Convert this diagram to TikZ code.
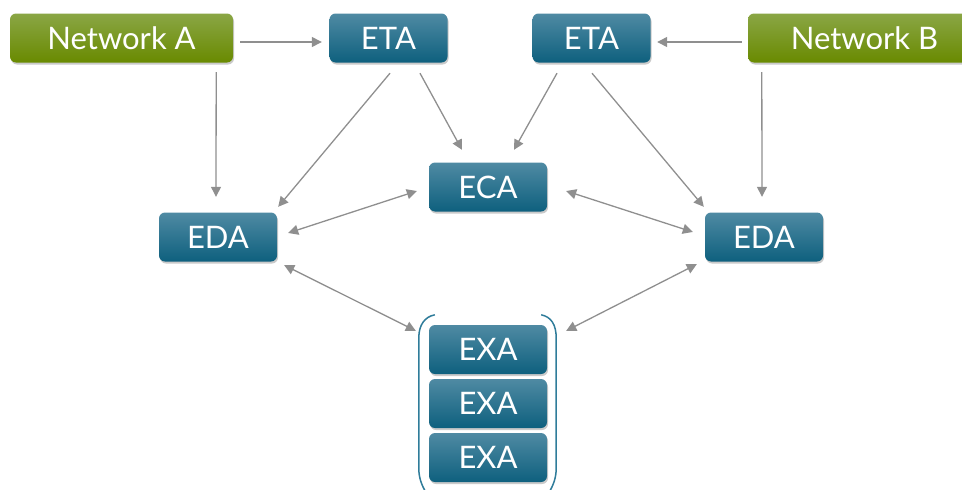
\documentclass[tikz,border=0pt]{standalone}
\usepackage{fontspec}
\setmainfont{Lato}
\usetikzlibrary{shadows,arrows.meta}
\definecolor{btop}{HTML}{4F8AA3}
\definecolor{bbot}{HTML}{0E607E}
\definecolor{gtop}{HTML}{8AA645}
\definecolor{gbot}{HTML}{698A00}
\definecolor{arr}{HTML}{8F8F8F}
\definecolor{brk}{HTML}{2F7C9A}
\tikzset{
  box/.style={rounded corners=6pt, minimum height=49pt, inner sep=0pt, text=white, font=\fontsize{31}{34}\selectfont,
    drop shadow={shadow xshift=1pt, shadow yshift=-2pt, opacity=0.35, fill=black!60}},
  bluebox/.style={box, top color=btop, bottom color=bbot, minimum width=118pt},
  greenbox/.style={box, top color=gtop, bottom color=gbot, minimum width=223pt},
  link/.style={draw=arr, line width=1.3pt, -{Triangle[length=10pt,width=10pt]}},
  blink/.style={draw=arr, line width=1.3pt, {Triangle[length=10pt,width=10pt]}-{Triangle[length=10pt,width=10pt]}},
  brace/.style={draw=brk, line width=1.5pt},
}
\begin{document}
\begin{tikzpicture}[x=1pt,y=-1pt]
\useasboundingbox (0,0) rectangle (962,490);
\node[greenbox] (na) at (121.5,38) {Network A};
\node[greenbox] (nb) at (859.5,38) {\hspace{10pt}Network B};
\node[bluebox] (etal) at (388.5,38) {ETA};
\node[bluebox] (etar) at (591.5,38) {ETA};
\node[bluebox] (eca) at (488,187) {ECA};
\node[bluebox] (edal) at (218,237) {EDA};
\node[bluebox] (edar) at (764,237) {EDA};
\node[bluebox] (exa1) at (488,349.5) {EXA};
\node[bluebox] (exa2) at (488,403.5) {EXA};
\node[bluebox] (exa3) at (488,457.5) {EXA};
% bracket
\draw[brace] ([shift={(6,-10)}]exa1.north west) .. controls ([shift={(-4,-8)}]exa1.north west) and ([shift={(-10,0)}]exa1.north west) .. ([shift={(-10,13)}]exa1.north west) -- ([shift={(-10,-14)}]exa3.south west) .. controls ([shift={(-10,-4)}]exa3.south west) and ([shift={(-7,3)}]exa3.south west) .. ([shift={(-3,10)}]exa3.south west);
\draw[brace] ([shift={(-6,-10)}]exa1.north east) .. controls ([shift={(4,-8)}]exa1.north east) and ([shift={(9,0)}]exa1.north east) .. ([shift={(9,13)}]exa1.north east) -- ([shift={(9,-14)}]exa3.south east) .. controls ([shift={(9,-4)}]exa3.south east) and ([shift={(6,3)}]exa3.south east) .. ([shift={(2,10)}]exa3.south east);
% arrows
\draw[link] ([shift={(7,4)}]na.east) -- ([shift={(-7.5,4)}]etal.west);
\draw[link] ([shift={(-6,4)}]nb.west) -- ([shift={(6.5,4)}]etar.east);
\draw[link] ([shift={(-17,9.5)}]na.south east) -- ([shift={(-2,-15.5)}]edal.north);
\draw[link] ([shift={(14,9.5)}]nb.south west) -- ([shift={(-2,-15.5)}]edar.north);
\draw[link] ([shift={(1.5,10.5)}]etal.south) -- ([shift={(1,-5.5)}]edal.north east);
\draw[link] ([shift={(31.5,10.5)}]etal.south) -- ([shift={(-26,-12.5)}]eca.north);
\draw[link] ([shift={(-34.5,10.5)}]etar.south) -- ([shift={(26,-12.5)}]eca.north);
\draw[link] ([shift={(0.5,10.5)}]etar.south) -- ([shift={(-1,-5.5)}]edar.north west);
\draw[blink] ([shift={(11,-4)}]edal.east) -- ([shift={(-12,4)}]eca.west);
\draw[blink] ([shift={(19,4)}]eca.east) -- ([shift={(-12,-5)}]edar.west);
\draw[blink] ([shift={(7,3.5)}]edal.south east) -- ([shift={(-13,6)}]exa1.north west);
\draw[blink] ([shift={(-8,2.5)}]edar.south west) -- ([shift={(19,6)}]exa1.north east);
\end{tikzpicture}
\end{document}
